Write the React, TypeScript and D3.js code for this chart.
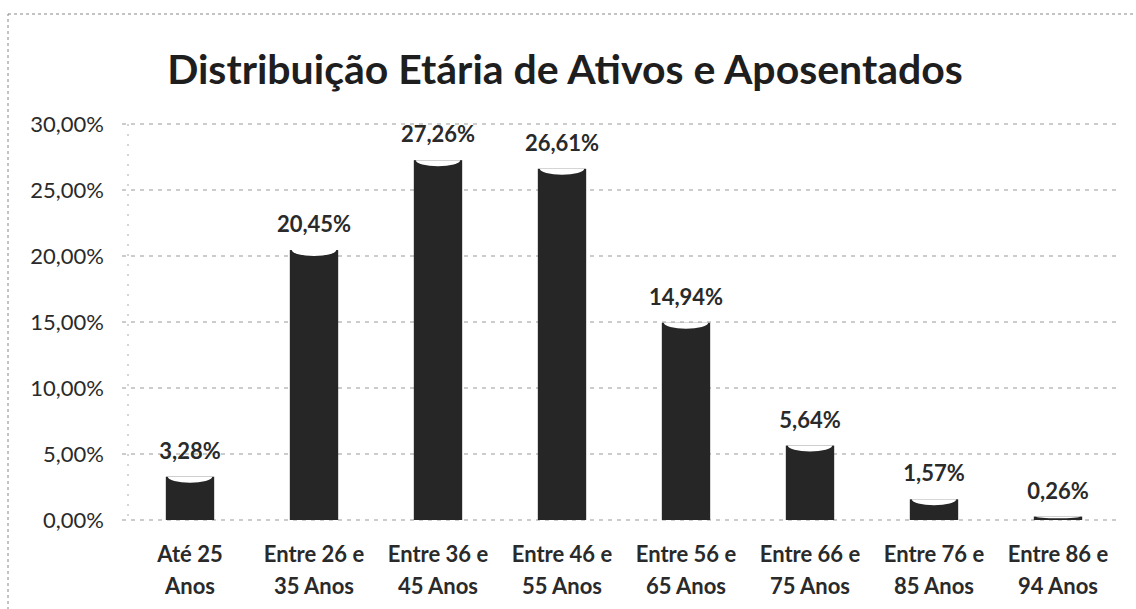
import React from "react";
import * as d3 from "d3";

const categories: string[][] = [
  ["Até 25", "Anos"],
  ["Entre 26 e", "35 Anos"],
  ["Entre 36 e", "45 Anos"],
  ["Entre 46 e", "55 Anos"],
  ["Entre 56 e", "65 Anos"],
  ["Entre 66 e", "75 Anos"],
  ["Entre 76 e", "85 Anos"],
  ["Entre 86 e", "94 Anos"],
];
const values: number[] = [3.28, 20.45, 27.26, 26.61, 14.94, 5.64, 1.57, 0.26];
const yTicks: number[] = [0, 5, 10, 15, 20, 25, 30];
const title = "Distribuição Etária de Ativos e Aposentados";

const W = 1136;
const H = 609;
const margin = { left: 128, right: 16, top: 124, bottom: 89 };
const font = "Lato, 'Open Sans', sans-serif";

const fmt = (v: number) => v.toFixed(2).replace(".", ",") + "%";

export default function App() {
  const x = d3
    .scaleBand<number>()
    .domain(d3.range(categories.length))
    .range([margin.left, W - margin.right])
    .paddingInner(0.61)
    .paddingOuter(0.305);
  const y = d3.scaleLinear().domain([0, 30]).range([H - margin.bottom, margin.top]);
  const bw = x.bandwidth();

  return (
    <svg
      width={W}
      height={H}
      style={{ position: "absolute", left: 0, top: 0, background: "#fff" }}
      fontFamily={font}
    >
      <rect x={0} y={0} width={W} height={H} fill="#fff" />
      <rect
        x={8}
        y={14}
        width={W + 20}
        height={H}
        fill="none"
        stroke="#888"
        strokeDasharray="3,3"
        strokeWidth={1}
      />
      <text
        x={565}
        y={84}
        textAnchor="middle"
        fontSize={41}
        fontWeight="bold"
        fill="#1e1e1e"
      >
        {title}
      </text>
      {yTicks.map((t) => (
        <g key={t}>
          <line
            x1={margin.left - 6}
            x2={W - margin.right}
            y1={y(t)}
            y2={y(t)}
            stroke="#999"
            strokeDasharray="4,5"
            strokeWidth={1}
          />
          <text
            x={104}
            y={y(t) + 8}
            textAnchor="end"
            fontSize={22}
            fill="#2a2a2a"
          >
            {fmt(t)}
          </text>
        </g>
      ))}
      <line
        x1={margin.left}
        x2={margin.left}
        y1={y(30)}
        y2={y(0)}
        stroke="#aaa"
        strokeDasharray="2,8"
      />
      {values.map((v, i) => {
        const bx = x(i)!;
        const top = y(v);
        const h = y(0) - top;
        const ry = Math.min(6, h / 2);
        return (
          <g key={i}>
            <rect x={bx} y={top} width={bw} height={h} fill="#262626" />
            {h > 3 && (
              <path
                d={`M${bx + 2},${top} A${bw / 2 - 2},${ry} 0 0 0 ${bx + bw - 2},${top} Z`}
                fill="#fff"
              />
            )}
            <text
              x={bx + bw / 2}
              y={top - 18}
              textAnchor="middle"
              fontSize={22}
              fontWeight="bold"
              fill="#2a2a2a"
            >
              {fmt(v)}
            </text>
          </g>
        );
      })}
      {categories.map((c, i) => (
        <text
          key={i}
          x={x(i)! + bw / 2}
          textAnchor="middle"
          fontSize={22}
          fontWeight="bold"
          fill="#2a2a2a"
        >
          <tspan x={x(i)! + bw / 2} y={562}>
            {c[0]}
          </tspan>
          <tspan x={x(i)! + bw / 2} y={594}>
            {c[1]}
          </tspan>
        </text>
      ))}
    </svg>
  );
}
